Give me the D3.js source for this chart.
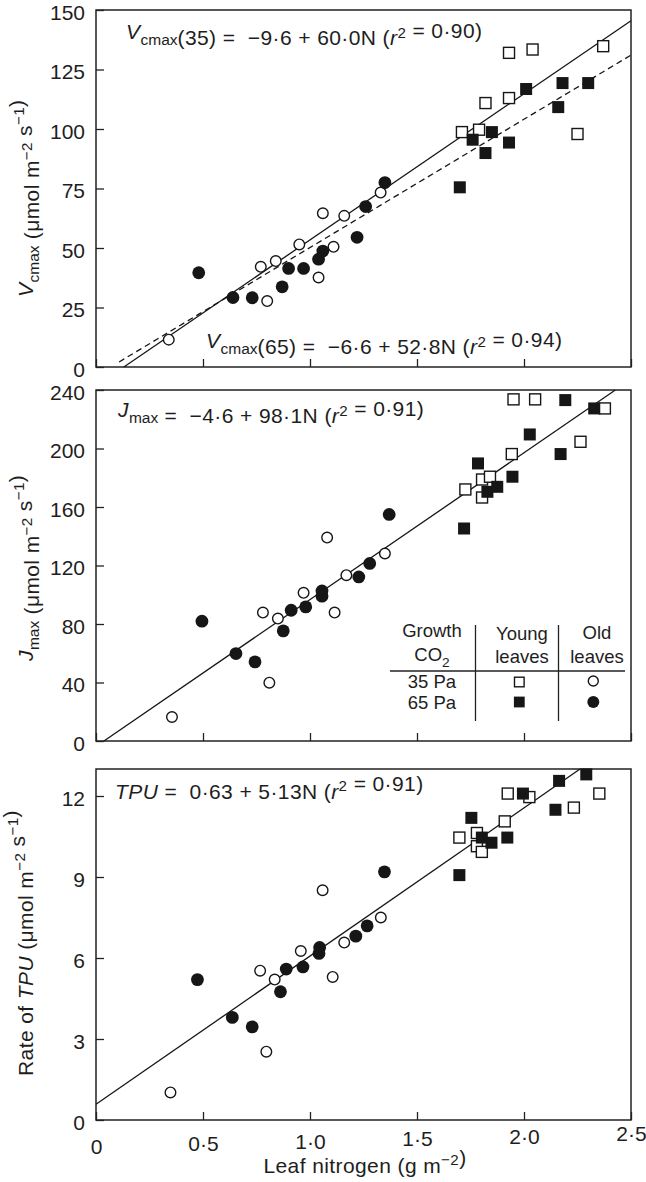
<!DOCTYPE html>
<html><head><meta charset="utf-8">
<script src="https://cdn.jsdelivr.net/npm/d3@7"></script>
<style>
html,body{margin:0;padding:0;background:#fff;}
svg{display:block;font-family:"Liberation Sans",Arial,sans-serif;}
text{fill:#1e1e1e;white-space:pre;}
</style></head>
<body>
<svg id="c" width="646" height="1182"></svg>
<script>
// ---------- data (leaf nitrogen N, value) ----------
const xTicks = [0, 0.5, 1.0, 1.5, 2.0, 2.5];
const xTickLabels = ["0", "0·5", "1·0", "1·5", "2·0", "2·5"];

// Panel A: Vcmax
const vcTicks = [0, 25, 50, 75, 100, 125, 150];
const vcOld35 = [[0.34,11.5],[0.77,42.1],[0.80,27.7],[0.84,44.5],[0.95,51.5],[1.04,37.6],[1.06,64.6],[1.11,50.5],[1.16,63.5],[1.33,73.3]];
const vcOld65 = [[0.48,39.6],[0.64,29.2],[0.73,29.1],[0.87,33.7],[0.90,41.4],[0.97,41.4],[1.04,45.3],[1.06,48.7],[1.22,54.5],[1.26,67.4],[1.35,77.5]];
const vcYoung35 = [[1.71,98.7],[1.79,99.7],[1.82,110.9],[1.93,113.0],[1.93,132.0],[2.04,133.4],[2.25,97.9],[2.37,134.8]];
const vcYoung65 = [[1.70,75.5],[1.76,95.5],[1.82,89.9],[1.85,98.7],[1.93,94.3],[2.01,116.8],[2.16,109.2],[2.18,119.3],[2.30,119.3]];
const vcFit35 = {a:-8.0, b:61.4, from:0.130, to:2.5};
const vcFit65 = {a:-3.7, b:53.9, from:0.108, to:2.5};

// Panel B: Jmax
const jTicks = [0, 40, 80, 120, 160, 200, 240];
const jOld35 = [[0.355,16.4],[0.78,87.8],[0.81,39.9],[0.85,83.7],[0.97,101.3],[1.08,139.1],[1.115,87.8],[1.17,113.4],[1.35,128.2]];
const jOld65 = [[0.495,81.9],[0.654,59.8],[0.743,54.1],[0.875,75.3],[0.912,89.4],[0.98,91.7],[1.056,99.0],[1.056,102.6],[1.228,112.2],[1.279,121.4],[1.37,154.9]];
const jYoung35 = [[1.726,172.0],[1.804,178.8],[1.804,166.5],[1.841,180.7],[1.943,196.2],[1.951,233.6],[2.052,233.6],[2.264,204.6],[2.378,227.4]];
const jYoung65 = [[1.72,145.3],[1.785,189.8],[1.829,170.4],[1.875,173.8],[1.946,180.7],[2.027,209.6],[2.171,196.2],[2.193,233.1],[2.328,227.4]];
const jFit = {a:-3.7, b:100.4, from:0.037, to:2.427};

// Panel C: TPU
const tTicks = [0, 3, 6, 9, 12];
const tOld35 = [[0.348,1.02],[0.767,5.53],[0.796,2.53],[0.835,5.20],[0.957,6.26],[1.059,8.51],[1.106,5.30],[1.16,6.57],[1.331,7.50]];
const tOld65 = [[0.474,5.20],[0.637,3.80],[0.73,3.45],[0.862,4.75],[0.889,5.59],[0.967,5.67],[1.042,6.17],[1.045,6.39],[1.214,6.81],[1.267,7.19],[1.348,9.19]];
const tYoung35 = [[1.698,10.46],[1.78,10.63],[1.78,10.14],[1.803,9.93],[1.91,11.06],[1.924,12.09],[2.025,11.96],[2.233,11.57],[2.352,12.09]];
const tYoung65 = [[1.698,9.07],[1.754,11.19],[1.803,10.46],[1.848,10.27],[1.922,10.46],[1.995,12.09],[2.147,11.49],[2.164,12.56],[2.291,12.80]];
const tFit = {a:0.58, b:5.49, from:0, to:2.262};

// ---------- drawing ----------
const svg = d3.select("#c");
const INK = "#161616";
const FS = 21;
const LS = 0.4;
const x = d3.scaleLinear().domain([0, 2.5]).range([96, 631]);

function rich(sel, parts, fs) {
  parts.forEach(p => {
    const [t, s] = p;
    const ts = sel.append("tspan").text(t);
    if (s === "i") ts.attr("font-style", "italic");
    if (s === "sub") { ts.attr("font-size", fs*0.74).attr("dy", fs*0.30).attr("letter-spacing", 0); }
    if (s === "sup") { ts.attr("font-size", fs*0.72).attr("dy", -fs*0.36); }
    if (s === "sub" || s === "sup") {
      sel.append("tspan").attr("dy", s === "sub" ? -fs*0.30 : fs*0.36).text("");
    }
  });
  return sel;
}

function panel(cfg) {
  const y = d3.scaleLinear().domain(cfg.yDomain).range(cfg.yRange);
  const g = svg.append("g");
  g.append("rect").attr("x", x(0)).attr("y", y(cfg.yDomain[1]))
    .attr("width", x(2.5) - x(0)).attr("height", y(cfg.yDomain[0]) - y(cfg.yDomain[1]))
    .attr("fill", "none").attr("stroke", "#222").attr("stroke-width", 1.5);
  const ya = g.append("g").attr("transform", `translate(${x(0)},0)`)
    .call(d3.axisLeft(y).tickValues(cfg.yTicks).tickSize(-8).tickPadding(11).tickFormat(d3.format("d")));
  ya.select(".domain").remove();
  ya.selectAll("line").attr("stroke", "#222").attr("stroke-width", 1.3);
  ya.selectAll("text").attr("font-size", FS).attr("font-family", "Liberation Sans, Arial, sans-serif")
    .attr("fill", "#1e1e1e").attr("dy", 9);
  const xa = g.append("g").attr("transform", `translate(0,${y(cfg.yDomain[0])})`)
    .call(d3.axisBottom(x).tickValues(xTicks).tickSize(-8).tickFormat((d,i) => xTickLabels[i]));
  xa.select(".domain").remove();
  xa.selectAll("line").attr("stroke", "#222").attr("stroke-width", 1.3);
  if (cfg.xLabels) {
    xa.selectAll("text").attr("font-size", FS).attr("font-family", "Liberation Sans, Arial, sans-serif")
      .attr("fill", "#1e1e1e").attr("dy", 0).attr("y", (d,i) => 34 - i*2.6);
  } else {
    xa.selectAll("text").remove();
  }
  cfg.fits.forEach(f => {
    g.append("line")
      .attr("x1", x(f.from)).attr("y1", y(f.a + f.b*f.from))
      .attr("x2", x(f.to)).attr("y2", y(f.a + f.b*f.to))
      .attr("stroke", INK).attr("stroke-width", 1.3)
      .attr("stroke-dasharray", f.dash ? "6,4" : null);
  });
  const pts = g.append("g");
  pts.selectAll(".oc").data(cfg.old35).join("circle")
    .attr("cx", d => x(d[0])).attr("cy", d => y(d[1])).attr("r", 5.3)
    .attr("fill", "#fff").attr("stroke", INK).attr("stroke-width", 1.4);
  pts.selectAll(".os").data(cfg.young35).join("rect")
    .attr("x", d => x(d[0]) - 5.5).attr("y", d => y(d[1]) - 5.5).attr("width", 11).attr("height", 11)
    .attr("fill", "#fff").attr("stroke", INK).attr("stroke-width", 1.4);
  pts.selectAll(".fc").data(cfg.old65).join("circle")
    .attr("cx", d => x(d[0])).attr("cy", d => y(d[1])).attr("r", 6.4)
    .attr("fill", INK);
  pts.selectAll(".fs").data(cfg.young65).join("rect")
    .attr("x", d => x(d[0]) - 6).attr("y", d => y(d[1]) - 6).attr("width", 12).attr("height", 12)
    .attr("fill", INK);
  cfg.eqs.forEach(e => {
    rich(g.append("text").attr("x", e.x).attr("y", e.y).attr("font-size", FS).attr("letter-spacing", LS), e.parts, FS);
  });
  rich(g.append("text").attr("transform", `translate(33,${cfg.ylabY}) rotate(-90)`)
    .attr("font-size", FS).attr("letter-spacing", LS).attr("text-anchor", "start"), cfg.ylab, FS);
}

const unitParts = [[" (μmol m"],["−2","sup"],[" s"],["−1","sup"],[")"]];

panel({
  yDomain:[0,150], yRange:[367,10], yTicks: vcTicks, xLabels:false,
  old35: vcOld35, old65: vcOld65, young35: vcYoung35, young65: vcYoung65,
  fits: [Object.assign({}, vcFit35), Object.assign({dash:true}, vcFit65)],
  eqs: [
    {x:126, y:39, parts:[["V","i"],["cmax","sub"],["(35) =  −9·6 + 60·0N ("],["r","i"],["2","sup"],[" = 0·90)"]]},
    {x:206, y:348, parts:[["V","i"],["cmax","sub"],["(65) =  −6·6 + 52·8N ("],["r","i"],["2","sup"],[" = 0·94)"]]}
  ],
  ylabY: 297, ylab: [["V","i"],["cmax","sub"]].concat(unitParts)
});

panel({
  yDomain:[0,240], yRange:[741,390], yTicks: jTicks, xLabels:false,
  old35: jOld35, old65: jOld65, young35: jYoung35, young65: jYoung65,
  fits: [jFit],
  eqs: [
    {x:118, y:417, parts:[["J","i"],["max","sub"],[" =  −4·6 + 98·1N ("],["r","i"],["2","sup"],[" = 0·91)"]]}
  ],
  ylabY: 661, ylab: [["J","i"],["max","sub"]].concat(unitParts)
});

panel({
  yDomain:[0,13], yRange:[1120,769], yTicks: tTicks, xLabels:true,
  old35: tOld35, old65: tOld65, young35: tYoung35, young65: tYoung65,
  fits: [tFit],
  eqs: [
    {x:115, y:799, parts:[["TPU","i"],[" =  0·63 + 5·13N ("],["r","i"],["2","sup"],[" = 0·91)"]]}
  ],
  ylabY: 1076, ylab: [["Rate of "],["TPU","i"]].concat(unitParts)
});

rich(svg.append("text").attr("x", 365).attr("y", 1173).attr("text-anchor", "middle")
  .attr("font-size", FS).attr("letter-spacing", LS),
  [["Leaf nitrogen (g m"],["−2","sup"],[")"]], FS);

// ---------- legend (table) ----------
const LFS = 18.5;
const lg = svg.append("g");
lg.append("line").attr("x1", 390).attr("x2", 625).attr("y1", 671).attr("y2", 671).attr("stroke", "#222").attr("stroke-width", 1.3);
[475.5, 558.5].forEach(vx => lg.append("line").attr("x1", vx).attr("x2", vx).attr("y1", 625).attr("y2", 721)
  .attr("stroke", "#222").attr("stroke-width", 1.3));
const legendText = [
  {x:432, y:637, parts:[["Growth"]]},
  {x:432, y:661, parts:[["CO"],["2","sub"]]},
  {x:522, y:640, parts:[["Young"]]},
  {x:522, y:663, parts:[["leaves"]]},
  {x:597, y:639, parts:[["Old"]]},
  {x:597, y:663, parts:[["leaves"]]},
  {x:432, y:688, parts:[["35 Pa"]]},
  {x:432, y:709, parts:[["65 Pa"]]}
];
legendText.forEach(t => rich(lg.append("text").attr("x", t.x).attr("y", t.y).attr("text-anchor", "middle").attr("font-size", LFS), t.parts, LFS));
lg.append("rect").attr("x", 519.3-4.8).attr("y", 682-4.8).attr("width", 9.6).attr("height", 9.6)
  .attr("fill", "#fff").attr("stroke", INK).attr("stroke-width", 1.4);
lg.append("rect").attr("x", 519.3-5.4).attr("y", 702-5.4).attr("width", 10.8).attr("height", 10.8).attr("fill", INK);
lg.append("circle").attr("cx", 593.3).attr("cy", 681).attr("r", 5).attr("fill", "#fff").attr("stroke", INK).attr("stroke-width", 1.4);
lg.append("circle").attr("cx", 593.3).attr("cy", 702).attr("r", 6).attr("fill", INK);
</script>
</body></html>
